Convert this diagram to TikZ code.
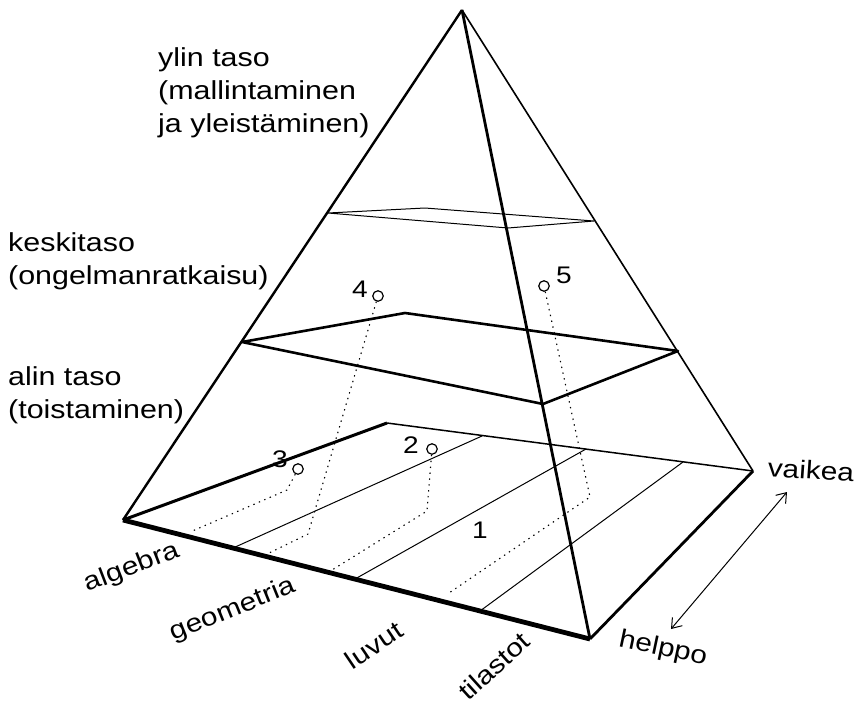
\documentclass[tikz,border=0pt]{standalone}
\usepackage{fontspec}
\setmainfont{Liberation Sans}[FakeStretch=1.17]
\usetikzlibrary{arrows.meta}
\tikzset{
  lvl/.style={font=\fontsize{26}{33}\selectfont,align=left,anchor=north west,inner sep=0pt},
  axlbl/.style={font=\fontsize{25.5}{28}\selectfont,inner sep=0pt},
  num/.style={font=\fontsize{24}{26}\selectfont,inner sep=0pt},
  pnt/.style={circle,draw,line width=1.2pt,minimum size=10.5pt,inner sep=0pt},
  proj/.style={line width=1.1pt,dash pattern=on 1.4pt off 4.5pt},
  stripe/.style={line width=1pt},
  darr/.style={{Straight Barb[length=9pt,width=13pt]}-{Straight Barb[length=9pt,width=13pt]},line width=1pt},
}
\begin{document}
\begin{tikzpicture}[x=1pt,y=-1pt,line join=round]
  \useasboundingbox (0,0) rectangle (856,704);
  % corners of the pyramid
  \coordinate (apex) at (462,10);
  \coordinate (bA) at (123,520); \coordinate (bF) at (590,639);
  \coordinate (bR) at (753,471); \coordinate (bB) at (387,423);
  \coordinate (mL) at (242,342); \coordinate (mB) at (405,313);
  \coordinate (mR) at (678,351); \coordinate (mF) at (543,404);
  \coordinate (uL) at (328,213); \coordinate (uB) at (425,208);
  \coordinate (uR) at (594,221); \coordinate (uF) at (508,228);
  % stripes on the base
  \coordinate (s1a) at (233,548); \coordinate (s1b) at (482,436);
  \coordinate (s2a) at (355,579); \coordinate (s2b) at (586,449);
  \coordinate (s3a) at (480,611); \coordinate (s3b) at (683,462);
  \draw[stripe] (s1a) -- (s1b); \draw[stripe] (s2a) -- (s2b); \draw[stripe] (s3a) -- (s3b);
  \draw[line width=1.5pt] (bB) -- (bR);
  \draw[line width=1pt] (uL) -- (uB) -- (uR) -- (uF) -- cycle;
  % points and their projections
  \node[pnt] (p2) at (432,449) {}; \node[num] (n2) at (411,445) {2};
  \node[pnt] (p3) at (298,469) {}; \node[num] (n3) at (280,459) {3};
  \node[pnt] (p4) at (378,296) {}; \node[num] (n4) at (360,289) {4};
  \node[pnt] (p5) at (544,286) {}; \node[num] (n5) at (564,275) {5};
  \node[num] (n1) at (480,530) {1};
  \coordinate (c2) at (427,511); \coordinate (e2) at (332,570);
  \coordinate (c3) at (287,490); \coordinate (e3) at (190,532);
  \coordinate (c4) at (308,534); \coordinate (e4) at (265,555);
  \coordinate (c5) at (590,497); \coordinate (e5) at (449,593);
  \draw[proj] (p2) -- (c2) -- (e2);
  \draw[proj] (p3) -- (c3) -- (e3);
  \draw[proj] (p4) -- (c4) -- (e4);
  \draw[proj] (p5) -- (c5) -- (e5);
  % middle level
  \draw[line width=2.6pt] (mL) -- (mB) -- (mR) -- (mF) -- cycle;
  % edges
  \draw[line width=1.6pt] (apex) -- (bR);
  \draw[line width=2.4pt] (apex) -- (bA);
  \draw[line width=3pt] (bA) -- (bB);
  \draw[line width=2.8pt] (bF) -- (bR);
  \draw[line width=4.8pt] (bA) -- (bF);
  \draw[line width=2.8pt] (apex) -- (bF);
  % level labels
  \node[lvl] (ylin) at (158,47) {ylin taso\\(mallintaminen\\ja yleistäminen)};
  \node[lvl] (keski) at (8,232) {keskitaso\\(ongelmanratkaisu)};
  \node[lvl] (alin) at (8,366) {alin taso\\(toistaminen)};
  % axis labels
  \node[axlbl,rotate=21] (alg) at (132,568) {algebra};
  \node[axlbl,rotate=22] (geo) at (233,610) {geometria};
  \node[axlbl,rotate=34] (luv) at (374,645) {luvut};
  \node[axlbl,rotate=42] (til) at (494,666) {tilastot};
  \node[axlbl,rotate=-12] (help) at (663,649) {helppo};
  \node[axlbl,rotate=-4] (vaik) at (811,470) {vaikea};
  \coordinate (hArr) at (671,629); \coordinate (vArr) at (787,492);
  \draw[darr] (hArr) -- (vArr);
\end{tikzpicture}
\end{document}
